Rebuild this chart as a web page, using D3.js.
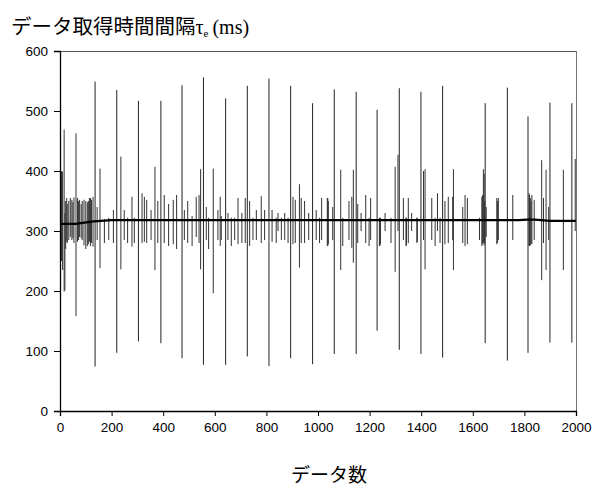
<!DOCTYPE html>
<html><head><meta charset="utf-8">
<script src="https://cdn.jsdelivr.net/npm/d3@7/dist/d3.min.js"></script>
<style>body{margin:0;background:#fff}svg{display:block}</style>
</head><body>
<svg id="c" width="592" height="489"></svg>
<script>
// ---- data ----
const xTicks = [0,200,400,600,800,1000,1200,1400,1600,1800,2000];
const yTicks = [0,100,200,300,400,500,600];
// baseline level of the interval series (index, ms)
const baseIdx = [0, 60, 130, 200, 1000, 1780, 1810, 1840, 1900, 2000];
const baseVal = [312, 312, 316, 318, 318, 318, 319, 319, 317, 317];
// large periodic spikes: index, max, min
const tallIdx = [136,220,304,391,473,556,642,726,810,894,979,1063,1148,1229,1315,1399,1483,1648,1734,1814,1899,1984];
const tallHi  = [549,535,517,517,543,556,521,542,554,542,513,536,532,502,538,532,542,513,539,491,514,513];
const tallLo  = [74,97,116,113,88,77,77,91,75,88,78,95,95,134,102,95,89,113,84,97,114,114];
// mid spikes
const midIdx = [6,10,16,19,62,155,236,368,545,594,928,1088,1137,1299,1310,1415,1525,1641,1644,1867,1884,1951];
const midHi  = [400,399,469,330,463,404,424,407,403,404,378,402,402,407,427,403,403,403,395,418,402,402];
const midLo  = [250,235,199,201,158,238,236,235,236,196,239,235,247,232,300,236,235,280,276,218,235,235];
// small spikes
const smIdx = [2,22,26,28,34,40,46,50,54,68,72,76,82,86,93,100,106,110,114,118,122,128,144,172,189,207,249,262,279,288,318,327,336,353,379,404,421,439,452,482,495,512,528,539,567,576,612,621,625,651,664,677,690,705,718,735,748,761,780,793,822,838,845,858,871,884,903,912,935,948,964,993,1006,1014,1036,1038,1040,1057,1096,1120,1131,1154,1167,1185,1198,1204,1238,1240,1242,1260,1283,1331,1341,1343,1350,1363,1383,1385,1409,1441,1454,1463,1473,1492,1505,1522,1561,1570,1579,1626,1635,1638,1646,1652,1693,1696,1699,1755,1818,1820,1823,1826,1829,1838,1874,1894,1997];
const smHi  = [345,350,355,345,350,355,352,348,356,355,350,352,345,350,352,350,348,350,355,355,352,357,340,320,322,335,335,322,357,322,363,357,352,335,350,360,345,352,360,335,350,325,357,360,340,322,335,357,325,330,322,322,355,330,355,350,322,335,358,335,335,322,330,322,330,322,357,352,355,350,330,335,322,355,355,355,350,340,322,350,357,345,330,360,322,355,322,322,322,330,322,355,322,322,355,330,322,322,400,355,322,363,322,350,357,357,340,360,355,322,357,360,350,340,355,350,355,360,363,360,355,350,360,352,355,340,420];
const smLo  = [290,270,282,280,285,290,285,288,280,282,285,290,288,285,276,270,275,278,282,275,280,274,285,280,285,280,285,280,274,280,280,282,280,285,280,280,275,278,270,285,280,275,290,280,285,270,285,275,285,285,275,285,278,280,280,275,285,285,280,285,282,280,300,285,285,280,278,280,280,280,285,285,280,285,275,275,278,285,275,285,272,280,300,280,275,285,275,275,278,300,280,285,275,276,280,300,280,282,285,285,275,300,280,278,280,285,280,275,278,285,275,278,280,290,278,280,285,285,275,275,276,278,278,285,280,285,300];

// ---- drawing ----
const L = 60, R = 576, T = 51, B = 411;
const svg = d3.select("#c");
const x = d3.scaleLinear().domain([0,2000]).range([L,R]);
const y = d3.scaleLinear().domain([0,600]).range([B,T]);

// frame (top & right)
svg.append("line").attr("x1",L).attr("x2",R).attr("y1",T+0.5).attr("y2",T+0.5)
  .attr("stroke","#555").attr("stroke-width",1.2);
svg.append("line").attr("x1",R+0.5).attr("x2",R+0.5).attr("y1",T).attr("y2",B)
  .attr("stroke","#777").attr("stroke-width",1);

const g = svg.append("g");
function spikes(idx, hi, lo, col, w){
  g.selectAll(null).data(idx.map((d,i)=>({d, hi:hi[i], lo:lo[i]}))).enter()
    .append("line")
    .attr("x1",d=>x(d.d)).attr("x2",d=>x(d.d))
    .attr("y1",d=>y(d.hi)).attr("y2",d=>y(d.lo))
    .attr("stroke",col).attr("stroke-width",w);
}
spikes(smIdx, smHi, smLo, "#333", 1);
spikes(midIdx, midHi, midLo, "#333", 1);
spikes(tallIdx, tallHi, tallLo, "#222", 1);

const base = d3.line().x(d=>x(d[0])).y(d=>y(d[1]));
g.append("path").datum(baseIdx.map((d,i)=>[d, baseVal[i]]))
  .attr("d", base).attr("fill","none").attr("stroke","#000").attr("stroke-width",2.2);

// axes
const yAxis = d3.axisLeft(y).tickValues(yTicks).tickSize(6).tickPadding(6).tickFormat(d3.format("d"));
const xAxis = d3.axisBottom(x).tickValues(xTicks).tickSize(5).tickPadding(6).tickFormat(d3.format("d"));
const ya = svg.append("g").attr("transform",`translate(${L},0)`).call(yAxis);
const xa = svg.append("g").attr("transform",`translate(0,${B})`).call(xAxis);
[ya,xa].forEach(a=>{
  a.select(".domain").attr("stroke","#000").attr("stroke-width",1.3);
  a.selectAll(".tick line").attr("stroke","#000");
  a.selectAll(".tick text").attr("font-family","Liberation Sans, Arial, sans-serif")
    .attr("font-size",13.5).attr("fill","#000");
});

// titles
const t = svg.append("text").attr("x",11).attr("y",34)
  .attr("font-family","Noto Sans CJK JP").attr("font-size",20.5).attr("fill","#000");
t.append("tspan").text("データ取得時間間隔");
t.append("tspan").attr("font-family","Liberation Serif").attr("font-size",20).text("τ");
t.append("tspan").attr("font-family","Liberation Serif").attr("font-size",11).attr("dy",3).text("e");
t.append("tspan").attr("font-family","Liberation Serif").attr("font-size",20).attr("dy",-3).attr("dx",4).text("(ms)");

svg.append("text").attr("x",329).attr("y",482).attr("text-anchor","middle")
  .attr("font-family","Noto Sans CJK JP").attr("font-size",19).attr("fill","#000")
  .text("データ数");
</script>
</body></html>
